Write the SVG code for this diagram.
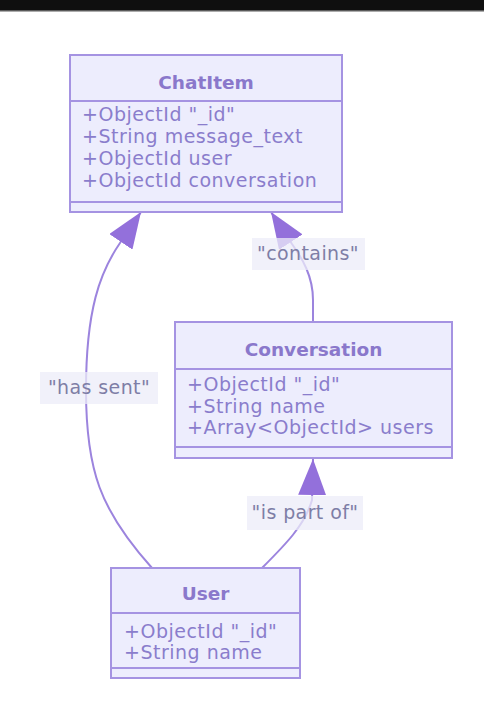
<svg xmlns="http://www.w3.org/2000/svg" width="484" height="712" viewBox="0 0 484 712">
<defs>
<style>
.box{fill:#ededfd;stroke:#a593e2;stroke-width:2}
.sep{stroke:#a593e2;stroke-width:2}
.title{font-family:"DejaVu Sans",sans-serif;font-size:18.5px;font-weight:bold;fill:#8a78cb;text-anchor:middle}
.mem{font-family:"DejaVu Sans",sans-serif;font-size:19px;letter-spacing:0.5px;fill:#8a7dcc}
.edge{fill:none;stroke:#9c84de;stroke-width:2}
.lblbg{fill:#ececf8;fill-opacity:0.75}
.lbl{font-family:"DejaVu Sans",sans-serif;font-size:19px;letter-spacing:0.4px;fill:#7e7ea6;text-anchor:middle}
</style>
<marker id="tri" markerUnits="userSpaceOnUse" viewBox="0 0 36 28" markerWidth="36" markerHeight="28" refX="36" refY="14" orient="auto">
<path d="M0,0 L36,14 L0,28 Z" fill="#9370db"/>
</marker>
</defs>
<rect x="0" y="0" width="484" height="712" fill="#ffffff"/>
<rect x="0" y="0" width="484" height="10" fill="#0f0f0f"/>
<rect x="0" y="10" width="484" height="1.5" fill="#5a5a5a"/>

<g id="connectors">
<path class="edge" d="M152,568 C100,510 86,470 86,390 C86,310 100,272 120,243 L141,212" marker-end="url(#tri)"/>
<path class="edge" d="M313,322 L313,300 C313,276 302,258 292,244 L271,212" marker-end="url(#tri)"/>
<path class="edge" d="M262,568 C285,545 305,525 312,500 L313,459" marker-end="url(#tri)"/>
<rect class="lblbg" x="40" y="372" width="118" height="32"/>
<text class="lbl" x="99" y="394">"has sent"</text>
<rect class="lblbg" x="252" y="238" width="113" height="32"/>
<text class="lbl" x="308" y="260">"contains"</text>
<rect class="lblbg" x="247" y="496" width="116" height="34"/>
<text class="lbl" x="305" y="519">"is part of"</text>
</g>

<g id="ChatItem">
<rect class="box" x="70" y="55" width="272" height="157"/>
<line class="sep" x1="70" y1="101" x2="342" y2="101"/>
<line class="sep" x1="70" y1="202" x2="342" y2="202"/>
<text class="title" x="206" y="88.5">ChatItem</text>
<text class="mem" x="82" y="121">+ObjectId "_id"</text>
<text class="mem" x="82" y="143">+String message_text</text>
<text class="mem" x="82" y="165">+ObjectId user</text>
<text class="mem" x="82" y="187">+ObjectId conversation</text>
</g>

<g id="Conversation">
<rect class="box" x="175" y="322" width="277" height="136"/>
<line class="sep" x1="175" y1="369" x2="452" y2="369"/>
<line class="sep" x1="175" y1="447" x2="452" y2="447"/>
<text class="title" x="313.5" y="355.5">Conversation</text>
<text class="mem" x="187" y="391">+ObjectId "_id"</text>
<text class="mem" x="187" y="413">+String name</text>
<text class="mem" x="187" y="434">+Array&lt;ObjectId&gt; users</text>
</g>

<g id="User">
<rect class="box" x="111" y="568" width="189" height="110"/>
<line class="sep" x1="111" y1="613" x2="300" y2="613"/>
<line class="sep" x1="111" y1="668" x2="300" y2="668"/>
<text class="title" x="205.5" y="599.5">User</text>
<text class="mem" x="124" y="638">+ObjectId "_id"</text>
<text class="mem" x="124" y="659">+String name</text>
</g>
</svg>
